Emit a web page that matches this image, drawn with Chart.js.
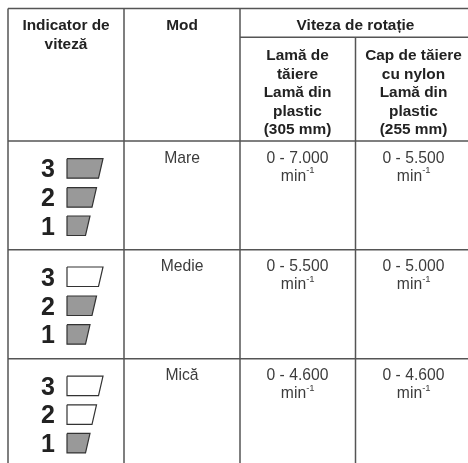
<!DOCTYPE html>
<html>
<head>
<meta charset="utf-8">
<style>
  html, body { margin: 0; padding: 0; background: #fff; }
  canvas { display: block; }
</style>
<script src="https://cdn.jsdelivr.net/npm/chart.js@4"></script>
</head>
<body>
<canvas id="myChart" width="468" height="463"></canvas>
<script>
// table content
var speedLevels = [3, 2, 1];
var modes = ["Mare", "Medie", "Mică"];
var activeLevels = [3, 2, 1];
var bladeSpeeds = ["0 - 7.000", "0 - 5.500", "0 - 4.600"];
var nylonSpeeds = ["0 - 5.500", "0 - 5.000", "0 - 4.600"];
var speedUnit = "min";
var unitPower = "-1";
var indicatorHeader = ["Indicator de", "viteză"];
var modeHeader = ["Mod"];
var speedHeader = ["Viteza de rotație"];
var bladeHeader = ["Lamă de", "tăiere", "Lamă din", "plastic", "(305 mm)"];
var nylonHeader = ["Cap de tăiere", "cu nylon", "Lamă din", "plastic", "(255 mm)"];

// table layout, in units of the hidden axes
var colLines = [8, 124, 240, 355.5];
var colCentres = [66, 182, 297.5, 413.5];
var rowLines = [141, 249.7, 358.7];
var barTops = [[158.7, 187.7, 216], [267, 296, 324.7], [376.2, 404.8, 433.4]];
var barWidths = [36, 29.5, 23];

var ruleColor = "#555";
var barColor = "#999";

function rule(x1, y1, x2, y2) {
    return {
        data: [{ x: x1, y: y1 }, { x: x2, y: y2 }],
        showLine: true,
        borderColor: ruleColor,
        borderWidth: 1.5,
        pointRadius: 0
    };
}

function bar(top, level, filled) {
    var w = barWidths[speedLevels.indexOf(level)];
    return {
        data: [
            { x: 67, y: top },
            { x: 67 + w, y: top },
            { x: 67 + w - 4.5, y: top + 19.5 },
            { x: 67, y: top + 19.5 },
            { x: 67, y: top }
        ],
        showLine: true,
        tension: 0,
        borderColor: "#333",
        borderWidth: 1.2,
        backgroundColor: filled ? barColor : "#fff",
        fill: "shape",
        pointRadius: 0
    };
}

var datasets = [];
datasets.push(rule(8, 8.5, 468, 8.5));
datasets.push(rule(240, 37.3, 468, 37.3));
rowLines.forEach(function (y) { datasets.push(rule(8, y, 468, y)); });
datasets.push(rule(colLines[0], 8.5, colLines[0], 463));
datasets.push(rule(colLines[1], 8.5, colLines[1], 463));
datasets.push(rule(colLines[2], 8.5, colLines[2], 463));
datasets.push(rule(colLines[3], 37.3, colLines[3], 463));

modes.forEach(function (m, r) {
    speedLevels.forEach(function (level, i) {
        datasets.push(bar(barTops[r][i], level, level <= activeLevels[r]));
    });
});

var tableText = {
    id: "tableText",
    afterDatasetsDraw: function (chart) {
        var ctx = chart.ctx,
            sx = chart.scales.x,
            sy = chart.scales.y;

        function put(s, x, y, font, color, align) {
            ctx.font = font;
            ctx.fillStyle = color;
            ctx.textAlign = align || "center";
            ctx.textBaseline = "alphabetic";
            ctx.fillText(s, sx.getPixelForValue(x), sy.getPixelForValue(y));
        }

        var bold = "bold 15.4px 'Liberation Sans'",
            regular = "15.7px 'Liberation Sans'",
            dark = "#222",
            grey = "#3c3c3c";

        function lines(list, x, y, pitch) {
            list.forEach(function (s, i) { put(s, x, y + i * pitch, bold, dark); });
        }

        lines(indicatorHeader, colCentres[0], 30, 19);
        lines(modeHeader, colCentres[1], 30, 19);
        lines(speedHeader, colLines[3], 30, 19);
        lines(bladeHeader, colCentres[2], 60, 18.6);
        lines(nylonHeader, colCentres[3], 60, 18.6);

        function speedCell(s, x, y) {
            put(s, x, y, regular, grey);
            ctx.font = regular;
            var w = ctx.measureText(speedUnit).width;
            put(speedUnit, x - 4, y + 17.8, regular, grey);
            put(unitPower, x - 4 + w / 2, y + 10.5, "9.5px 'Liberation Sans'", grey, "left");
        }

        modes.forEach(function (m, r) {
            var base = rowLines[r] + 21.7;
            put(m, colCentres[1], base, regular, grey);
            speedCell(bladeSpeeds[r], colCentres[2], base);
            speedCell(nylonSpeeds[r], colCentres[3], base);
            speedLevels.forEach(function (level, i) {
                put(String(level), 48, barTops[r][i] + 18.5, "bold 25px 'Liberation Sans'", dark);
            });
        });
    }
};

new Chart(document.getElementById("myChart").getContext("2d"), {
    type: "scatter",
    data: { datasets: datasets },
    options: {
        responsive: false,
        animation: false,
        layout: { padding: 0 },
        plugins: { legend: { display: false }, tooltip: { enabled: false } },
        scales: {
            x: { type: "linear", min: 0, max: 468, display: false },
            y: { type: "linear", min: 0, max: 463, reverse: true, display: false }
        }
    },
    plugins: [tableText]
});
</script>
</body>
</html>
